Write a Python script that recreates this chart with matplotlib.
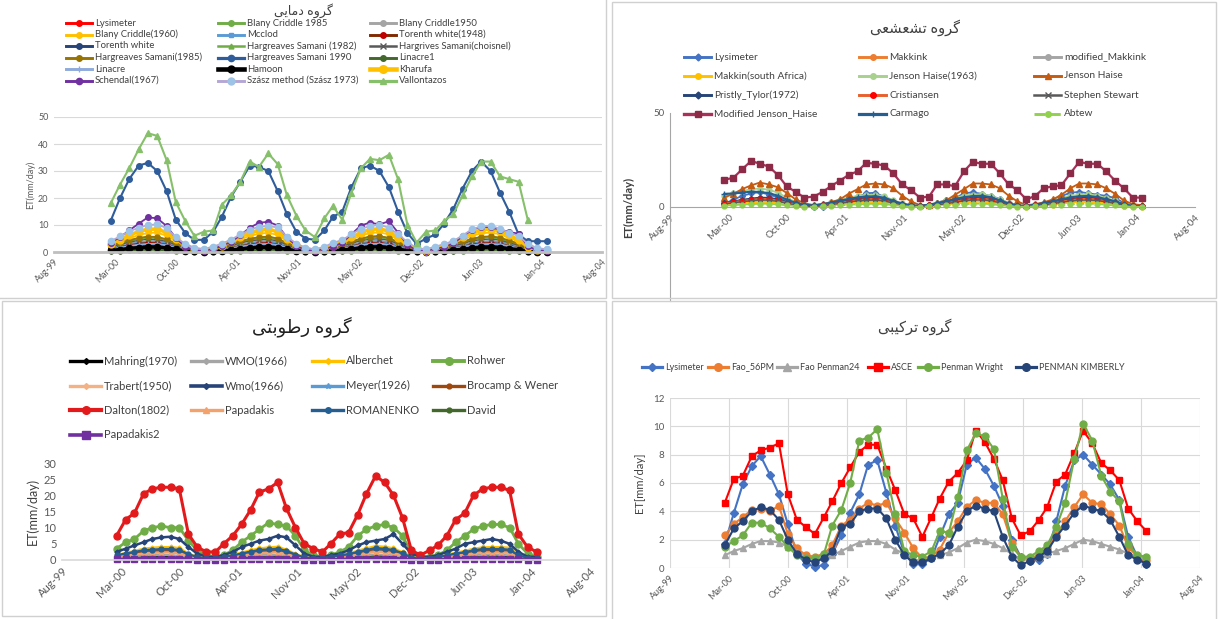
import numpy as np
import pandas as pd
import matplotlib
matplotlib.use("Agg")
import matplotlib.pyplot as plt
from matplotlib.lines import Line2D
from matplotlib.patches import Rectangle

plt.rcParams["font.family"] = ["Lato", "DejaVu Sans"]

W, H = 1218, 619
nan = np.nan

# monthly values, Mar 2000 .. Feb 2004
months = pd.date_range("2000-03-01", periods=48, freq="MS").to_pydatetime()
# Excel date axis: serials 36400..38200, major unit 200 days
tick_serials = [36400, 36600, 36800, 37000, 37200, 37400, 37600, 37800, 38000, 38200]

# ---------------- temperature group (top left) ----------------
tl_lysimeter = [
    1.2, 2.1, 2.9, 3.6, 3.8, 3.7, 3.2, 2.0, 1.0, 0.5, 0.3, 0.6,
    0.9, 1.6, 2.4, 3.1, 3.4, 3.5, 2.9, 1.9, 0.9, 0.4, 0.3, 0.5,
    0.8, 1.5, 2.3, 3.0, 3.5, 3.6, 3.0, 2.1, 1.0, 0.4, 0.3, 0.6,
    0.8, 1.4, 2.2, 3.0, 3.4, 3.5, 3.1, 2.5, 1.7, 0.7, 0.3, 0.3]
blany_criddle_1985 = [
    2.0, 3.0, 4.0, 5.0, 5.5, 5.5, 4.5, 3.0, 1.5, 0.8, 0.5, 1.0,
    1.5, 2.5, 3.8, 4.6, 5.3, 5.6, 4.9, 3.2, 1.8, 0.9, 0.6, 0.9,
    1.4, 2.3, 3.6, 4.8, 5.6, 5.8, 5.1, 3.5, 1.9, 0.8, 0.5, 1.0,
    1.3, 2.4, 3.5, 4.7, 5.4, 5.7, 5.2, 4.1, 3.0, 1.4, 0.7, 0.6]
blany_criddle_1950 = [
    1.5, 2.3, 3.0, 3.6, 4.0, 4.0, 3.4, 2.3, 1.2, 0.6, 0.4, 0.7,
    1.1, 1.9, 2.8, 3.4, 3.9, 4.1, 3.6, 2.4, 1.3, 0.6, 0.4, 0.7,
    1.0, 1.8, 2.7, 3.5, 4.0, 4.2, 3.7, 2.6, 1.4, 0.6, 0.4, 0.8,
    1.0, 1.8, 2.6, 3.4, 3.9, 4.1, 3.8, 3.0, 2.2, 1.0, 0.5, 0.4]
blany_criddle_1960 = [
    2.5, 3.8, 5.0, 6.3, 7.0, 7.2, 6.0, 4.0, 2.0, 1.0, 0.6, 1.2,
    2.0, 3.2, 4.8, 5.9, 6.8, 7.1, 6.3, 4.2, 2.3, 1.1, 0.7, 1.2,
    1.9, 3.0, 4.6, 6.1, 7.0, 7.3, 6.5, 4.5, 2.4, 1.0, 0.6, 1.3,
    1.8, 3.1, 4.5, 6.0, 6.9, 7.2, 6.6, 5.2, 3.8, 1.7, 0.8, 0.7]
mcclod = [
    1.2, 2.0, 2.8, 3.4, 3.8, 3.9, 3.3, 2.2, 1.1, 0.5, 0.3, 0.6,
    1.0, 1.7, 2.6, 3.2, 3.7, 3.9, 3.4, 2.3, 1.2, 0.5, 0.3, 0.6,
    0.9, 1.6, 2.5, 3.3, 3.8, 4.0, 3.5, 2.4, 1.3, 0.5, 0.3, 0.7,
    0.9, 1.6, 2.4, 3.2, 3.7, 3.9, 3.6, 2.9, 2.0, 0.9, 0.4, 0.3]
torenth_white_1948 = [
    1.1, 1.8, 2.5, 3.1, 3.4, 3.3, 2.7, 1.7, 0.8, 0.3, 0.2, 0.5,
    0.8, 1.4, 2.2, 2.8, 3.2, 3.3, 2.8, 1.8, 0.9, 0.3, 0.2, 0.4,
    0.7, 1.3, 2.1, 2.9, 3.3, 3.4, 2.9, 1.9, 0.9, 0.3, 0.2, 0.5,
    0.7, 1.3, 2.0, 2.8, 3.2, 3.3, 3.0, 2.3, 1.6, 0.6, 0.2, 0.2]
torenth_white = [
    0.8, 1.3, 1.8, 2.3, 2.6, 2.5, 2.0, 1.2, 0.6, 0.2, 0.1, 0.3,
    0.6, 1.0, 1.6, 2.1, 2.4, 2.5, 2.1, 1.3, 0.6, 0.2, 0.1, 0.3,
    0.5, 1.0, 1.5, 2.2, 2.5, 2.6, 2.2, 1.4, 0.7, 0.2, 0.1, 0.3,
    0.5, 0.9, 1.5, 2.1, 2.4, 2.5, 2.3, 1.7, 1.2, 0.4, 0.1, 0.1]
hs_1982 = [
    2.2, 3.1, 4.0, 4.8, 5.2, 5.1, 4.3, 2.9, 1.6, 0.9, 0.7, 1.1,
    1.6, 2.6, 3.6, 4.5, 5.0, 5.2, 4.5, 3.0, 1.7, 0.9, 0.7, 1.1,
    1.5, 2.5, 3.5, 4.6, 5.2, 5.4, 4.7, 3.3, 1.8, 0.9, 0.6, 1.2,
    1.5, 2.5, 3.5, 4.5, 5.1, 5.3, 4.8, 3.8, 2.8, 1.4, 0.8, 0.7]
hs_choisnel = [
    1.9, 2.8, 3.6, 4.3, 4.7, 4.6, 3.9, 2.6, 1.4, 0.7, 0.5, 0.9,
    1.4, 2.3, 3.3, 4.1, 4.5, 4.7, 4.1, 2.7, 1.5, 0.7, 0.5, 0.9,
    1.3, 2.2, 3.2, 4.2, 4.7, 4.9, 4.3, 3.0, 1.6, 0.7, 0.5, 1.0,
    1.3, 2.2, 3.1, 4.1, 4.6, 4.8, 4.4, 3.4, 2.5, 1.2, 0.6, 0.5]
hs_1985 = [
    2.4, 3.4, 4.4, 5.2, 5.7, 5.6, 4.7, 3.2, 1.8, 1.0, 0.8, 1.2,
    1.8, 2.9, 4.0, 4.9, 5.5, 5.7, 5.0, 3.3, 1.9, 1.0, 0.8, 1.2,
    1.7, 2.8, 3.9, 5.0, 5.7, 5.9, 5.2, 3.6, 2.0, 1.0, 0.7, 1.3,
    1.7, 2.8, 3.9, 4.9, 5.6, 5.8, 5.3, 4.2, 3.1, 1.5, 0.9, 0.8]
hs_1990 = [
    11.5, 20.0, 27.0, 32.0, 33.0, 30.0, 22.5, 12.0, 7.0, 4.5, 4.5, 7.5,
    13.0, 20.5, 26.0, 32.0, 31.5, 30.0, 22.5, 14.0, 7.5, 5.0, 4.5, 8.0,
    13.0, 15.0, 24.0, 31.0, 32.0, 30.0, 24.0, 15.0, 7.0, 3.0, 5.0, 6.5,
    10.5, 16.0, 23.5, 30.0, 33.5, 30.0, 22.0, 15.0, 6.5, 4.0, 4.0, 4.0]
linacre1 = [
    0.3, 0.4, 0.6, 0.7, 0.8, 0.8, 0.6, 0.4, 0.2, 0.1, 0.0, 0.1,
    0.2, 0.3, 0.5, 0.6, 0.7, 0.8, 0.7, 0.4, 0.2, 0.1, 0.0, 0.1,
    0.2, 0.3, 0.5, 0.7, 0.8, 0.8, 0.7, 0.4, 0.2, 0.1, 0.0, 0.1,
    0.2, 0.3, 0.5, 0.6, 0.8, 0.8, 0.7, 0.5, 0.3, 0.1, 0.0, 0.0]
linacre = [
    1.0, 1.6, 2.2, 2.7, 3.0, 3.0, 2.5, 1.6, 0.8, 0.4, 0.2, 0.5,
    0.8, 1.3, 2.0, 2.5, 2.9, 3.0, 2.6, 1.7, 0.9, 0.4, 0.2, 0.4,
    0.7, 1.2, 1.9, 2.6, 3.0, 3.1, 2.7, 1.8, 0.9, 0.4, 0.2, 0.5,
    0.7, 1.2, 1.9, 2.5, 2.9, 3.0, 2.8, 2.1, 1.5, 0.6, 0.3, 0.2]
hamoon = [
    0.6, 0.9, 1.3, 1.6, 1.8, 1.8, 1.5, 1.0, 0.5, 0.2, 0.1, 0.3,
    0.4, 0.7, 1.1, 1.5, 1.7, 1.8, 1.5, 1.0, 0.5, 0.2, 0.1, 0.3,
    0.4, 0.7, 1.1, 1.5, 1.8, 1.9, 1.6, 1.1, 0.5, 0.2, 0.1, 0.3,
    0.4, 0.7, 1.0, 1.4, 1.7, 1.8, 1.6, 1.2, 0.9, 0.3, 0.1, 0.1]
kharufa = [
    3.0, 4.6, 6.2, 7.6, 8.4, 8.5, 7.2, 4.8, 2.4, 1.0, 0.6, 1.3,
    2.4, 3.9, 5.7, 7.0, 8.1, 8.4, 7.5, 5.0, 2.6, 1.1, 0.6, 1.2,
    2.2, 3.6, 5.5, 7.2, 8.3, 8.6, 7.7, 5.3, 2.8, 1.0, 0.5, 1.3,
    2.1, 3.7, 5.4, 7.1, 8.2, 8.5, 7.8, 6.2, 4.5, 2.0, 0.8, 0.7]
schendal = [
    3.5, 5.5, 8.0, 10.5, 12.8, 12.5, 9.6, 5.2, 2.0, 0.6, 0.4, 1.2,
    2.2, 3.8, 6.2, 9.0, 10.8, 11.2, 9.8, 5.4, 2.3, 0.7, 0.4, 1.1,
    2.0, 3.4, 6.6, 9.8, 10.9, 10.2, 11.4, 7.2, 2.6, 0.6, 0.4, 1.2,
    1.8, 3.2, 5.8, 8.2, 9.4, 9.1, 8.3, 7.4, 6.8, 2.2, 0.6, 0.5]
szasz = [
    4.0, 5.8, 7.6, 9.0, 10.0, 10.2, 8.9, 5.4, 3.0, 1.6, 1.1, 2.0,
    3.1, 4.6, 6.5, 8.2, 9.4, 9.6, 9.1, 5.6, 3.1, 1.6, 1.0, 1.9,
    3.4, 4.4, 6.6, 8.6, 9.6, 10.1, 9.0, 6.6, 3.6, 1.5, 1.0, 2.0,
    2.9, 4.1, 6.1, 8.4, 9.5, 9.7, 8.6, 7.1, 6.0, 3.0, 1.5, 1.0]
vallontazos = [
    18.0, 25.0, 31.0, 38.0, 44.0, 43.0, 34.0, 18.5, 11.5, 6.0, 7.5, 8.0,
    17.5, 21.0, 26.0, 33.5, 31.5, 36.5, 32.5, 21.0, 13.5, 8.0, 5.5, 12.5,
    17.0, 12.0, 22.0, 31.0, 34.5, 34.0, 36.0, 27.0, 10.0, 3.5, 7.5, 8.0,
    11.5, 14.0, 21.0, 28.0, 33.5, 33.5, 28.0, 27.0, 26.0, 12.0, nan, nan]

# ---------------- radiation group (top right) ----------------
lysimeter = [
    1.7, 3.9, 5.9, 7.2, 7.9, 6.6, 5.2, 3.1, 1.0, 0.3, 0.1, 0.2,
    1.0, 2.3, 3.9, 5.2, 7.3, 7.6, 5.3, 3.0, 1.0, 0.3, 0.3, 0.7,
    2.2, 3.8, 4.6, 7.3, 7.8, 7.0, 5.8, 4.4, 2.0, 0.8, 0.5, 0.6,
    1.0, 3.3, 5.8, 7.6, 8.0, 7.3, 6.6, 5.9, 4.8, 2.2, 0.8, 0.3]
makkink = [
    2.0, 2.9, 3.6, 4.2, 4.6, 4.5, 3.8, 2.5, 1.3, 0.7, 0.5, 0.9,
    1.5, 2.4, 3.3, 4.0, 4.5, 4.6, 4.0, 2.6, 1.4, 0.7, 0.5, 0.9,
    1.4, 2.3, 3.2, 4.1, 4.6, 4.8, 4.2, 2.9, 1.5, 0.7, 0.4, 1.0,
    1.4, 2.3, 3.1, 4.0, 4.5, 4.7, 4.3, 3.4, 2.4, 1.1, 0.5, 0.4]
modified_makkink = [
    1.3, 1.9, 2.4, 2.8, 3.1, 3.0, 2.5, 1.7, 0.9, 0.5, 0.3, 0.6,
    1.0, 1.6, 2.2, 2.7, 3.0, 3.1, 2.7, 1.8, 1.0, 0.5, 0.3, 0.6,
    0.9, 1.5, 2.1, 2.7, 3.1, 3.2, 2.8, 1.9, 1.0, 0.5, 0.3, 0.7,
    0.9, 1.5, 2.1, 2.7, 3.0, 3.1, 2.9, 2.3, 1.6, 0.7, 0.3, 0.3]
makkink_sa = [
    1.1, 1.6, 2.0, 2.4, 2.7, 2.6, 2.2, 1.4, 0.8, 0.4, 0.3, 0.5,
    0.9, 1.4, 1.9, 2.3, 2.6, 2.7, 2.3, 1.5, 0.8, 0.4, 0.3, 0.5,
    0.8, 1.3, 1.8, 2.3, 2.7, 2.8, 2.4, 1.6, 0.9, 0.4, 0.2, 0.6,
    0.8, 1.3, 1.8, 2.3, 2.6, 2.7, 2.5, 2.0, 1.4, 0.6, 0.3, 0.2]
jenson_haise_1963 = [
    6.0, 7.2, 8.4, 9.5, 9.8, 9.2, 7.6, 5.0, 2.6, 1.3, 0.9, 1.8,
    2.5, 3.8, 5.0, 5.9, 6.4, 6.5, 5.6, 3.7, 2.0, 1.0, 0.7, 1.3,
    2.3, 3.6, 4.9, 6.0, 6.6, 6.8, 5.9, 4.1, 2.2, 1.0, 0.6, 1.4,
    2.2, 3.6, 4.8, 5.9, 6.5, 6.7, 6.1, 4.8, 3.5, 1.6, 0.8, 0.7]
jenson_haise = [
    5.0, 7.0, 9.5, 11.5, 13.0, 12.0, 10.5, 7.5, 4.0, 2.0, 1.0, 1.5,
    2.5, 4.0, 7.0, 9.5, 12.0, 12.5, 12.0, 10.0, 6.0, 3.0, 1.0, 1.0,
    2.0, 3.5, 6.5, 9.5, 12.5, 12.5, 12.0, 10.0, 6.0, 3.0, 1.0, 1.5,
    2.5, 4.0, 6.5, 10.0, 12.5, 12.5, 12.0, 10.0, 7.0, 3.5, 1.5, 1.0]
pristly_tylor = [
    2.1, 3.0, 3.8, 4.5, 5.0, 4.9, 4.1, 2.7, 1.4, 0.7, 0.5, 1.0,
    1.6, 2.5, 3.5, 4.3, 4.8, 5.0, 4.3, 2.8, 1.5, 0.7, 0.5, 0.9,
    1.5, 2.4, 3.4, 4.4, 5.0, 5.2, 4.5, 3.1, 1.6, 0.7, 0.4, 1.0,
    1.5, 2.4, 3.3, 4.3, 4.9, 5.1, 4.6, 3.6, 2.6, 1.2, 0.5, 0.4]
cristiansen = [
    1.8, 2.6, 3.3, 3.9, 4.3, 4.2, 3.5, 2.3, 1.2, 0.6, 0.4, 0.8,
    1.4, 2.2, 3.0, 3.7, 4.1, 4.3, 3.7, 2.4, 1.3, 0.6, 0.4, 0.8,
    1.3, 2.1, 2.9, 3.8, 4.3, 4.5, 3.9, 2.7, 1.4, 0.6, 0.3, 0.9,
    1.3, 2.1, 2.9, 3.7, 4.2, 4.4, 4.0, 3.1, 2.2, 1.0, 0.4, 0.3]
stephen_stewart = [
    1.5, 2.2, 2.8, 3.3, 3.7, 3.6, 3.0, 2.0, 1.0, 0.5, 0.3, 0.7,
    1.2, 1.9, 2.6, 3.2, 3.5, 3.7, 3.2, 2.1, 1.1, 0.5, 0.3, 0.7,
    1.1, 1.8, 2.5, 3.3, 3.7, 3.8, 3.3, 2.3, 1.2, 0.5, 0.3, 0.8,
    1.1, 1.8, 2.5, 3.2, 3.6, 3.7, 3.4, 2.7, 1.9, 0.9, 0.4, 0.3]
modified_jenson_haise = [
    14.5, 15.5, 20.0, 24.5, 23.0, 21.5, 17.0, 11.0, 8.0, 5.0, 5.5, 8.0,
    11.0, 14.0, 17.0, 19.0, 23.5, 23.0, 22.0, 18.0, 12.0, 9.0, 5.0, 5.5,
    12.0, 12.0, 11.0, 19.0, 24.0, 23.0, 23.0, 18.0, 12.0, 9.0, 4.0, 6.0,
    10.0, 11.0, 11.5, 18.0, 24.0, 23.0, 23.0, 19.0, 14.0, 10.0, 5.0, 5.0]
carmago = [
    7.0, 7.2, 7.6, 8.2, 8.0, 7.4, 6.0, 4.0, 2.2, 1.2, 0.8, 1.5,
    2.3, 3.3, 4.3, 5.1, 5.6, 5.7, 4.9, 3.3, 1.8, 0.9, 0.6, 1.2,
    2.1, 3.1, 4.2, 5.2, 5.8, 6.0, 5.2, 3.6, 1.9, 0.9, 0.5, 1.3,
    2.1, 3.1, 4.1, 5.1, 5.7, 5.9, 5.3, 4.2, 3.1, 1.4, 0.6, 0.5]
abtew = [
    0.7, 1.0, 1.3, 1.5, 1.7, 1.7, 1.4, 0.9, 0.5, 0.2, 0.1, 0.3,
    0.5, 0.8, 1.2, 1.4, 1.6, 1.7, 1.5, 1.0, 0.5, 0.2, 0.1, 0.3,
    0.5, 0.8, 1.1, 1.5, 1.7, 1.8, 1.5, 1.0, 0.5, 0.2, 0.1, 0.3,
    0.5, 0.8, 1.1, 1.4, 1.6, 1.7, 1.6, 1.2, 0.8, 0.4, 0.1, 0.1]

# ---------------- humidity group (bottom left) ----------------
mahring = [
    0.6, 0.8, 1.0, 1.2, 1.3, 1.3, 1.2, 1.0, 0.6, 0.3, 0.2, 0.3,
    0.5, 0.7, 0.9, 1.1, 1.3, 1.4, 1.3, 1.0, 0.6, 0.3, 0.2, 0.3,
    0.5, 0.7, 0.9, 1.1, 1.3, 1.4, 1.3, 1.1, 0.7, 0.3, 0.2, 0.3,
    0.5, 0.7, 0.9, 1.1, 1.3, 1.4, 1.4, 1.3, 1.1, 0.5, 0.3, 0.2]
wmo_1966 = [
    0.8, 1.0, 1.2, 1.4, 1.5, 1.6, 1.5, 1.3, 0.8, 0.4, 0.3, 0.4,
    0.6, 0.8, 1.1, 1.3, 1.5, 1.6, 1.6, 1.3, 0.8, 0.4, 0.3, 0.4,
    0.6, 0.8, 1.1, 1.3, 1.5, 1.7, 1.6, 1.4, 0.9, 0.4, 0.3, 0.4,
    0.6, 0.8, 1.1, 1.3, 1.5, 1.6, 1.7, 1.6, 1.4, 0.6, 0.4, 0.3]
alberchet = [
    1.5, 2.2, 2.8, 3.5, 3.8, 4.0, 4.0, 3.7, 2.0, 1.0, 0.5, 0.6,
    1.0, 1.6, 2.3, 3.0, 3.6, 3.9, 4.1, 3.2, 1.9, 0.9, 0.5, 0.6,
    1.0, 1.5, 2.0, 2.9, 3.6, 4.3, 4.1, 3.6, 2.4, 0.8, 0.4, 0.6,
    0.9, 1.5, 2.3, 2.8, 3.5, 3.9, 4.0, 4.0, 3.8, 1.6, 0.8, 0.5]
rohwer = [
    3.5, 5.5, 6.5, 9.0, 10.0, 10.5, 10.0, 10.0, 6.0, 3.0, 1.5, 1.0,
    1.5, 3.0, 5.5, 7.5, 9.5, 11.5, 11.0, 10.5, 7.5, 3.0, 1.5, 1.0,
    1.5, 2.5, 4.0, 7.5, 9.5, 10.5, 11.0, 10.0, 7.5, 2.0, 1.0, 1.0,
    1.5, 3.0, 5.5, 7.5, 9.5, 10.5, 11.0, 11.0, 10.0, 5.0, 2.0, 1.0]
trabert = [
    1.0, 1.4, 1.8, 2.2, 2.4, 2.5, 2.5, 2.3, 1.3, 0.7, 0.4, 0.4,
    0.7, 1.0, 1.5, 1.9, 2.3, 2.4, 2.6, 2.0, 1.2, 0.6, 0.4, 0.4,
    0.7, 1.0, 1.3, 1.9, 2.3, 2.7, 2.6, 2.3, 1.5, 0.5, 0.3, 0.4,
    0.6, 1.0, 1.5, 1.8, 2.2, 2.5, 2.5, 2.5, 2.4, 1.0, 0.5, 0.3]
wmo_1966_b = [
    2.5, 3.5, 4.5, 5.5, 6.5, 7.0, 7.2, 6.5, 4.0, 2.0, 1.0, 1.0,
    1.5, 2.5, 4.0, 5.0, 6.0, 6.5, 7.5, 7.0, 4.5, 2.0, 1.0, 1.0,
    1.5, 2.0, 3.0, 4.5, 5.5, 6.0, 6.5, 8.0, 5.0, 2.0, 1.0, 1.0,
    1.5, 2.5, 3.5, 5.0, 5.5, 6.0, 6.5, 6.0, 5.0, 2.5, 1.0, 1.0]
meyer = [
    1.1, 1.5, 1.9, 2.3, 2.5, 2.6, 2.6, 2.4, 1.4, 0.7, 0.4, 0.4,
    0.8, 1.1, 1.6, 2.0, 2.4, 2.5, 2.7, 2.1, 1.3, 0.6, 0.4, 0.4,
    0.8, 1.1, 1.4, 2.0, 2.4, 2.8, 2.7, 2.4, 1.6, 0.5, 0.3, 0.4,
    0.7, 1.1, 1.6, 1.9, 2.3, 2.6, 2.6, 2.6, 2.5, 1.1, 0.5, 0.3]
brocamp_wener = [
    1.3, 1.8, 2.2, 2.7, 3.0, 3.1, 3.1, 2.9, 1.6, 0.8, 0.5, 0.5,
    0.9, 1.3, 1.8, 2.4, 2.9, 3.0, 3.2, 2.5, 1.5, 0.7, 0.5, 0.5,
    0.9, 1.3, 1.6, 2.3, 2.9, 3.4, 3.2, 2.9, 1.9, 0.6, 0.4, 0.5,
    0.8, 1.3, 1.8, 2.2, 2.8, 3.1, 3.1, 3.1, 3.0, 1.3, 0.6, 0.4]
dalton = [
    7.5, 12.5, 14.5, 20.5, 22.0, 22.5, 22.5, 22.0, 8.0, 4.0, 2.5, 2.5,
    5.0, 7.5, 11.0, 15.5, 21.0, 22.0, 24.0, 16.0, 10.0, 5.0, 3.5, 2.5,
    5.0, 8.0, 8.5, 14.0, 20.5, 26.0, 24.0, 20.0, 13.0, 3.0, 1.5, 3.0,
    4.5, 7.5, 12.5, 14.5, 20.0, 22.0, 22.5, 22.5, 21.5, 8.0, 4.0, 2.5]
papadakis = [
    0.9, 1.3, 1.7, 2.0, 2.2, 2.3, 2.3, 2.1, 1.2, 0.6, 0.3, 0.4,
    0.6, 0.9, 1.4, 1.8, 2.1, 2.2, 2.4, 1.8, 1.1, 0.5, 0.3, 0.4,
    0.6, 0.9, 1.2, 1.7, 2.1, 2.5, 2.4, 2.1, 1.4, 0.5, 0.3, 0.4,
    0.6, 0.9, 1.4, 1.7, 2.0, 2.3, 2.3, 2.3, 2.2, 0.9, 0.4, 0.3]
romanenko = [
    1.5, 2.0, 2.5, 3.0, 3.2, 3.4, 3.4, 3.1, 1.8, 0.9, 0.5, 0.6,
    1.0, 1.4, 2.0, 2.6, 3.1, 3.3, 3.5, 2.8, 1.7, 0.8, 0.5, 0.6,
    1.0, 1.4, 1.8, 2.5, 3.1, 3.7, 3.5, 3.1, 2.1, 0.7, 0.4, 0.6,
    0.9, 1.4, 2.0, 2.4, 3.0, 3.4, 3.4, 3.4, 3.2, 1.4, 0.7, 0.5]
david = [
    0.3, 0.4, 0.5, 0.6, 0.7, 0.7, 0.7, 0.6, 0.4, 0.2, 0.1, 0.1,
    0.2, 0.3, 0.4, 0.5, 0.6, 0.7, 0.7, 0.6, 0.3, 0.2, 0.1, 0.1,
    0.2, 0.3, 0.4, 0.5, 0.6, 0.8, 0.7, 0.6, 0.4, 0.1, 0.1, 0.1,
    0.2, 0.3, 0.4, 0.5, 0.6, 0.7, 0.7, 0.7, 0.6, 0.3, 0.1, 0.1]
papadakis2 = [
    0.2, 0.2, 0.3, 0.3, 0.4, 0.4, 0.4, 0.3, 0.2, 0.1, 0.1, 0.1,
    0.1, 0.2, 0.2, 0.3, 0.4, 0.4, 0.4, 0.3, 0.2, 0.1, 0.1, 0.1,
    0.1, 0.2, 0.2, 0.3, 0.4, 0.4, 0.4, 0.3, 0.2, 0.1, 0.1, 0.1,
    0.1, 0.2, 0.2, 0.3, 0.4, 0.4, 0.4, 0.4, 0.3, 0.2, 0.1, 0.1]

# ---------------- combination group (bottom right) ----------------
fao_56pm = [
    2.3, 3.1, 3.6, 4.1, 4.2, 4.0, 4.4, 2.4, 1.4, 0.9, 0.8, 1.0,
    1.6, 3.0, 3.4, 4.2, 4.6, 4.4, 4.6, 3.5, 2.5, 1.4, 0.7, 0.8,
    1.3, 2.5, 3.3, 4.3, 4.8, 4.6, 4.6, 3.8, 1.8, 0.7, 0.6, 1.0,
    1.4, 2.3, 3.3, 4.3, 5.2, 4.6, 4.5, 3.8, 3.0, 1.5, 0.8, 0.6]
fao_penman24 = [
    0.9, 1.2, 1.4, 1.7, 1.9, 1.9, 1.8, 1.5, 1.1, 0.8, 0.6, 0.7,
    0.9, 1.2, 1.5, 1.8, 1.9, 1.9, 1.7, 1.3, 1.0, 0.6, 0.5, 0.7,
    0.9, 1.1, 1.4, 1.8, 2.0, 1.9, 1.7, 1.4, 1.0, 0.6, 0.6, 0.8,
    1.0, 1.2, 1.4, 1.7, 2.0, 1.9, 1.7, 1.5, 1.3, 1.0, 0.8, 0.6]
asce = [
    4.6, 6.3, 6.5, 7.9, 8.3, 8.5, 8.8, 5.2, 3.4, 2.9, 2.4, 3.6,
    4.7, 6.0, 7.1, 8.2, 8.7, 8.7, 7.0, 5.5, 3.8, 3.5, 2.2, 3.6,
    4.9, 6.1, 6.7, 7.6, 9.7, 8.9, 7.7, 6.2, 3.5, 2.3, 2.6, 3.4,
    4.3, 6.1, 6.6, 8.1, 9.7, 8.8, 7.4, 6.9, 6.2, 4.2, 3.3, 2.6]
penman_wright = [
    1.5, 1.9, 2.3, 3.2, 3.2, 2.8, 2.2, 1.5, 0.9, 0.7, 0.7, 1.0,
    3.0, 4.1, 6.0, 9.0, 9.2, 9.8, 6.7, 3.8, 1.2, 0.9, 0.8, 1.2,
    2.6, 2.5, 5.0, 8.3, 9.5, 9.3, 8.4, 4.9, 1.5, 0.8, 0.8, 1.2,
    1.6, 2.9, 4.6, 7.7, 10.2, 9.0, 6.5, 5.4, 4.7, 1.7, 0.9, 0.8]
penman_kimberly = [
    1.6, 2.8, 3.3, 4.0, 4.3, 4.1, 3.4, 2.0, 1.0, 0.6, 0.4, 0.7,
    1.2, 2.9, 3.1, 4.0, 4.2, 4.2, 3.5, 2.0, 0.9, 0.4, 0.4, 0.7,
    1.0, 1.6, 2.9, 4.0, 4.4, 4.2, 4.0, 2.2, 0.8, 0.2, 0.5, 0.8,
    1.2, 2.2, 3.0, 3.9, 4.4, 4.2, 4.0, 3.4, 2.2, 0.9, 0.6, 0.3]

titles = ["گروه دمایی", "گروه تشعشعی", "گروه رطوبتی", "گروه ترکیبی"]


# simple Persian shaping (matplotlib does not join Arabic letters itself)
FORMS = {  # isolated, final, initial, medial
    "ا": ("\uFE8D", "\uFE8E", None, None),
    "ب": ("\uFE8F", "\uFE90", "\uFE91", "\uFE92"),
    "ت": ("\uFE95", "\uFE96", "\uFE97", "\uFE98"),
    "د": ("\uFEA9", "\uFEAA", None, None),
    "ر": ("\uFEAD", "\uFEAE", None, None),
    "ش": ("\uFEB5", "\uFEB6", "\uFEB7", "\uFEB8"),
    "ط": ("\uFEC1", "\uFEC2", "\uFEC3", "\uFEC4"),
    "ع": ("\uFEC9", "\uFECA", "\uFECB", "\uFECC"),
    "م": ("\uFEE1", "\uFEE2", "\uFEE3", "\uFEE4"),
    "ه": ("\uFEE9", "\uFEEA", "\uFEEB", "\uFEEC"),
    "و": ("\uFEED", "\uFEEE", None, None),
    "ک": ("\uFB8E", "\uFB8F", "\uFB90", "\uFB91"),
    "گ": ("\uFB92", "\uFB93", "\uFB94", "\uFB95"),
    "ی": ("\uFBFC", "\uFBFD", "\uFBFE", "\uFBFF"),
}


def shape_fa(text):
    words = []
    for word in text.split(" "):
        out = []
        for i, ch in enumerate(word):
            iso, fin, ini, med = FORMS[ch]
            joins_prev = i > 0 and FORMS[word[i - 1]][2] is not None
            joins_next = i < len(word) - 1 and ini is not None
            if joins_prev and joins_next:
                out.append(med)
            elif joins_prev:
                out.append(fin)
            elif joins_next:
                out.append(ini)
            else:
                out.append(iso)
        words.append("".join(out)[::-1])
    return " ".join(words[::-1])


def sty(c, m, ms=3.5, lw=1.3, mfc=None, ls="-"):
    return dict(c=c, m=m, ms=ms, lw=lw, mfc=mfc or c, ls=ls)


tl_series = [
    ("Lysimeter", tl_lysimeter, sty("#FF0000", "o")),
    ("Blany Criddle 1985", blany_criddle_1985, sty("#70AD47", "o")),
    ("Blany Criddle1950", blany_criddle_1950, sty("#A5A5A5", "o")),
    ("Blany Criddle(1960)", blany_criddle_1960, sty("#FFC000", "o")),
    ("Mcclod", mcclod, sty("#5B9BD5", "s", 3)),
    ("Torenth white(1948)", torenth_white_1948, sty("#7F2A00", "o", mfc="#C00000")),
    ("Torenth white", torenth_white, sty("#264478", "o")),
    ("Hargreaves Samani (1982)", hs_1982, sty("#70AD47", "^", 3, 1.0)),
    ("Hargrives Samani(choisnel)", hs_choisnel, sty("#595959", "x", 3.5, 1.0)),
    ("Hargreaves Samani(1985)", hs_1985, sty("#997300", "o")),
    ("Hargreaves Samani 1990", hs_1990, sty("#2F5C9A", "o", 4, 1.5)),
    ("Linacre1", linacre1, sty("#43682B", "o")),
    ("Linacre", linacre, sty("#8FAADC", "+", 4)),
    ("Hamoon", hamoon, sty("#000000", "o", 4.5, 2.5)),
    ("Kharufa", kharufa, sty("#FFC000", "o", 5, 2.5)),
    ("Schendal(1967)", schendal, sty("#7030A0", "o", 4)),
    ("Szász method (Szász 1973)", szasz, sty("#B4A7D6", "o", 4.5, 1.3, mfc="#9DC3E6")),
    ("Vallontazos", vallontazos, sty("#86C06A", "^", 4, 1.5)),
]

tr_series = [
    ("Lysimeter", lysimeter, sty("#4472C4", "D", 3)),
    ("Makkink", makkink, sty("#ED7D31", "o")),
    ("modified_Makkink", modified_makkink, sty("#A5A5A5", "o")),
    ("Makkin(south Africa)", makkink_sa, sty("#FFC000", "o")),
    ("Jenson Haise(1963)", jenson_haise_1963, sty("#A9D18E", "o")),
    ("Jenson Haise", jenson_haise, sty("#C55A11", "^", 4.5)),
    ("Pristly_Tylor(1972)", pristly_tylor, sty("#264478", "D", 3)),
    ("Cristiansen", cristiansen, sty("#E8602C", "o", mfc="#FF0000")),
    ("Stephen Stewart", stephen_stewart, sty("#595959", "x", 3.5, 1.0)),
    ("Modified Jenson_Haise", modified_jenson_haise, sty("#A8305A", "s", 4.5, 1.6, mfc="#8C2A48")),
    ("Carmago", carmago, sty("#255E91", "+", 4.5, 1.5)),
    ("Abtew", abtew, sty("#92D050", "o", 3.5, 1.3, ls="--")),
]

bl_series = [
    ("Mahring(1970)", mahring, sty("#000000", "D", 2.5, 1.6)),
    ("WMO(1966)", wmo_1966, sty("#A5A5A5", "D", 2.5, 1.6)),
    ("Alberchet", alberchet, sty("#FFC000", "D", 2.5, 1.6)),
    ("Rohwer", rohwer, sty("#70AD47", "o", 5, 2.0)),
    ("Trabert(1950)", trabert, sty("#F4B183", "D", 2.5, 1.6)),
    ("Wmo(1966)", wmo_1966_b, sty("#264478", "D", 2.5, 1.8)),
    ("Meyer(1926)", meyer, sty("#5B9BD5", "*", 3.5, 1.6)),
    ("Brocamp & Wener", brocamp_wener, sty("#9E480E", "o", 3, 1.6)),
    ("Dalton(1802)", dalton, sty("#E31A1C", "o", 5, 2.2)),
    ("Papadakis", papadakis, sty("#F4A26B", "^", 3.5, 1.6)),
    ("ROMANENKO", romanenko, sty("#255E91", "o", 3.5, 1.6)),
    ("David", david, sty("#43682B", "o", 3, 1.6)),
    ("Papadakis2", papadakis2, sty("#7030A0", "s", 5, 1.8)),
]

br_series = [
    ("Lysimeter", lysimeter, sty("#4472C4", "D", 4, 1.5)),
    ("Fao_56PM", fao_56pm, sty("#ED7D31", "o", 5, 1.5)),
    ("Fao Penman24", fao_penman24, sty("#A5A5A5", "^", 5, 1.5)),
    ("ASCE", asce, sty("#FF0000", "s", 5, 1.5)),
    ("Penman Wright", penman_wright, sty("#70AD47", "o", 5, 1.5)),
    ("PENMAN KIMBERLY", penman_kimberly, sty("#264478", "o", 5, 1.5)),
]

fig = plt.figure(figsize=(W / 100, H / 100), dpi=100)
fig.patch.set_facecolor("white")


def fx(x):
    return x / W


def fy(y):
    return 1 - y / H


def add_ax(l, t, r, b):
    return fig.add_axes([fx(l), fy(b), (r - l) / W, (b - t) / H])


def panel_frame(l, t, r, b):
    fig.add_artist(Rectangle((fx(l), fy(b)), (r - l) / W, (b - t) / H,
                             transform=fig.transFigure, fill=False,
                             ec="#D0D0D0", lw=1.0))


def legend_entry(x, y, label, st, fs, seg=26):
    fig.add_artist(Line2D([fx(x), fx(x + seg / 2), fx(x + seg)], [fy(y)] * 3,
                          transform=fig.transFigure, color=st["c"],
                          lw=st["lw"] + 0.8, ls=st["ls"], marker=st["m"],
                          markevery=[1], ms=st["ms"] + 0.5, mfc=st["mfc"],
                          mec=st["mfc"]))
    fig.text(fx(x + seg + 3), fy(y), label, fontsize=fs, va="center",
             ha="left", color="#404040")


def grid_legend(series, x0, y0, dx, dy, ncol, fs, seg):
    for i, (label, _, st) in enumerate(series):
        r, c = divmod(i, ncol)
        legend_entry(x0 + c * dx, y0 + r * dy, label, st, fs, seg)


def draw(ax, series):
    for label, vals, st in series:
        ax.plot(months, vals, color=st["c"], lw=st["lw"], ls=st["ls"],
                marker=st["m"], ms=st["ms"], mfc=st["mfc"], mec=st["mfc"],
                clip_on=False)


tick_dates = (pd.Timestamp("1899-12-30")
              + pd.to_timedelta(tick_serials, unit="D")).to_pydatetime()
tick_labels = [d.strftime("%b-%y") for d in tick_dates]


def date_axis(ax, fs):
    ax.set_xlim(tick_dates[0], tick_dates[-1])
    ax.set_xticks(tick_dates)
    ax.set_xticklabels(tick_labels, rotation=45, ha="right",
                       rotation_mode="anchor", fontsize=fs, color="#595959")
    ax.tick_params(length=0, pad=4)
    for s in ["top", "right", "left"]:
        ax.spines[s].set_visible(False)


# panel frames
panel_frame(-2, -2, 606, 298)
panel_frame(612, 2, 1216, 298)
panel_frame(2, 301, 606, 616)
panel_frame(612, 301, 1216, 621)

# ---- top left
ax1 = add_ax(54, 117, 602, 252)
draw(ax1, tl_series)
date_axis(ax1, 6.3)
ax1.set_ylim(0, 50)
ax1.set_yticks(range(0, 51, 10))
ax1.tick_params(axis="y", labelsize=6.5, labelcolor="#595959")
ax1.grid(axis="y", color="#D9D9D9", lw=0.8)
ax1.set_axisbelow(True)
ax1.spines["bottom"].set_color("#BFBFBF")
ax1.spines["bottom"].set_linewidth(2)
ax1.set_ylabel("ET(mm/day)", fontsize=6.5, color="#595959", labelpad=2)
fig.text(fx(303), fy(11), shape_fa(titles[0]), fontsize=9, ha="center",
         va="center", color="#404040")
grid_legend(tl_series, 66, 23, 152, 11.5, 3, 6.8, 26)

# ---- top right
ax2 = add_ax(670, 113, 1195, 301)
ax2.spines["bottom"].set_position(("data", 0))
draw(ax2, tr_series)
date_axis(ax2, 7)
ax2.set_ylim(-50, 50)
ax2.set_yticks([0, 50])
ax2.spines["left"].set_visible(True)
ax2.spines["left"].set_color("#A6A6A6")
ax2.spines["bottom"].set_color("#A6A6A6")
ax2.tick_params(axis="y", labelsize=7, labelcolor="#595959")
ax2.set_ylabel("ET(mm/day)", fontsize=8, fontweight="bold", color="#404040",
               labelpad=14)
fig.text(fx(915), fy(28), shape_fa(titles[1]), fontsize=10.5, ha="center",
         va="center", color="#404040")
grid_legend(tr_series, 684, 57, 175, 19, 3, 7.3, 27)

# ---- bottom left
ax3 = add_ax(62, 463, 590, 560)
draw(ax3, bl_series)
date_axis(ax3, 8)
ax3.set_ylim(0, 30)
ax3.set_yticks(range(0, 31, 5))
ax3.spines["bottom"].set_color("#D9D9D9")
ax3.spines["bottom"].set_linewidth(1.2)
ax3.tick_params(axis="y", labelsize=8, labelcolor="#595959")
ax3.set_ylabel("ET(mm/day)", fontsize=9, color="#404040", labelpad=3)
fig.text(fx(302), fy(327), shape_fa(titles[2]), fontsize=13, ha="center",
         va="center", color="#202020")
grid_legend(bl_series, 70, 361, 121, 24.5, 4, 8, 31)

# ---- bottom right
ax4 = add_ax(670, 398, 1200, 568)
draw(ax4, br_series)
date_axis(ax4, 6.5)
ax4.spines["bottom"].set_visible(False)
ax4.set_ylim(0, 12)
ax4.set_yticks(range(0, 13, 2))
ax4.grid(True, color="#D9D9D9", lw=0.8)
ax4.set_axisbelow(True)
ax4.tick_params(axis="y", labelsize=7, labelcolor="#595959")
ax4.set_ylabel("ET[mm/day]", fontsize=8, color="#404040", labelpad=6)
fig.text(fx(915), fy(327), shape_fa(titles[3]), fontsize=10.5, ha="center",
         va="center", color="#404040")
for (label, _, st), x in zip(br_series, [642, 708, 777, 868, 918, 1016]):
    legend_entry(x, 367, label, st, 6.5, seg=20)

fig.savefig("out.png", dpi=100, facecolor="white")
